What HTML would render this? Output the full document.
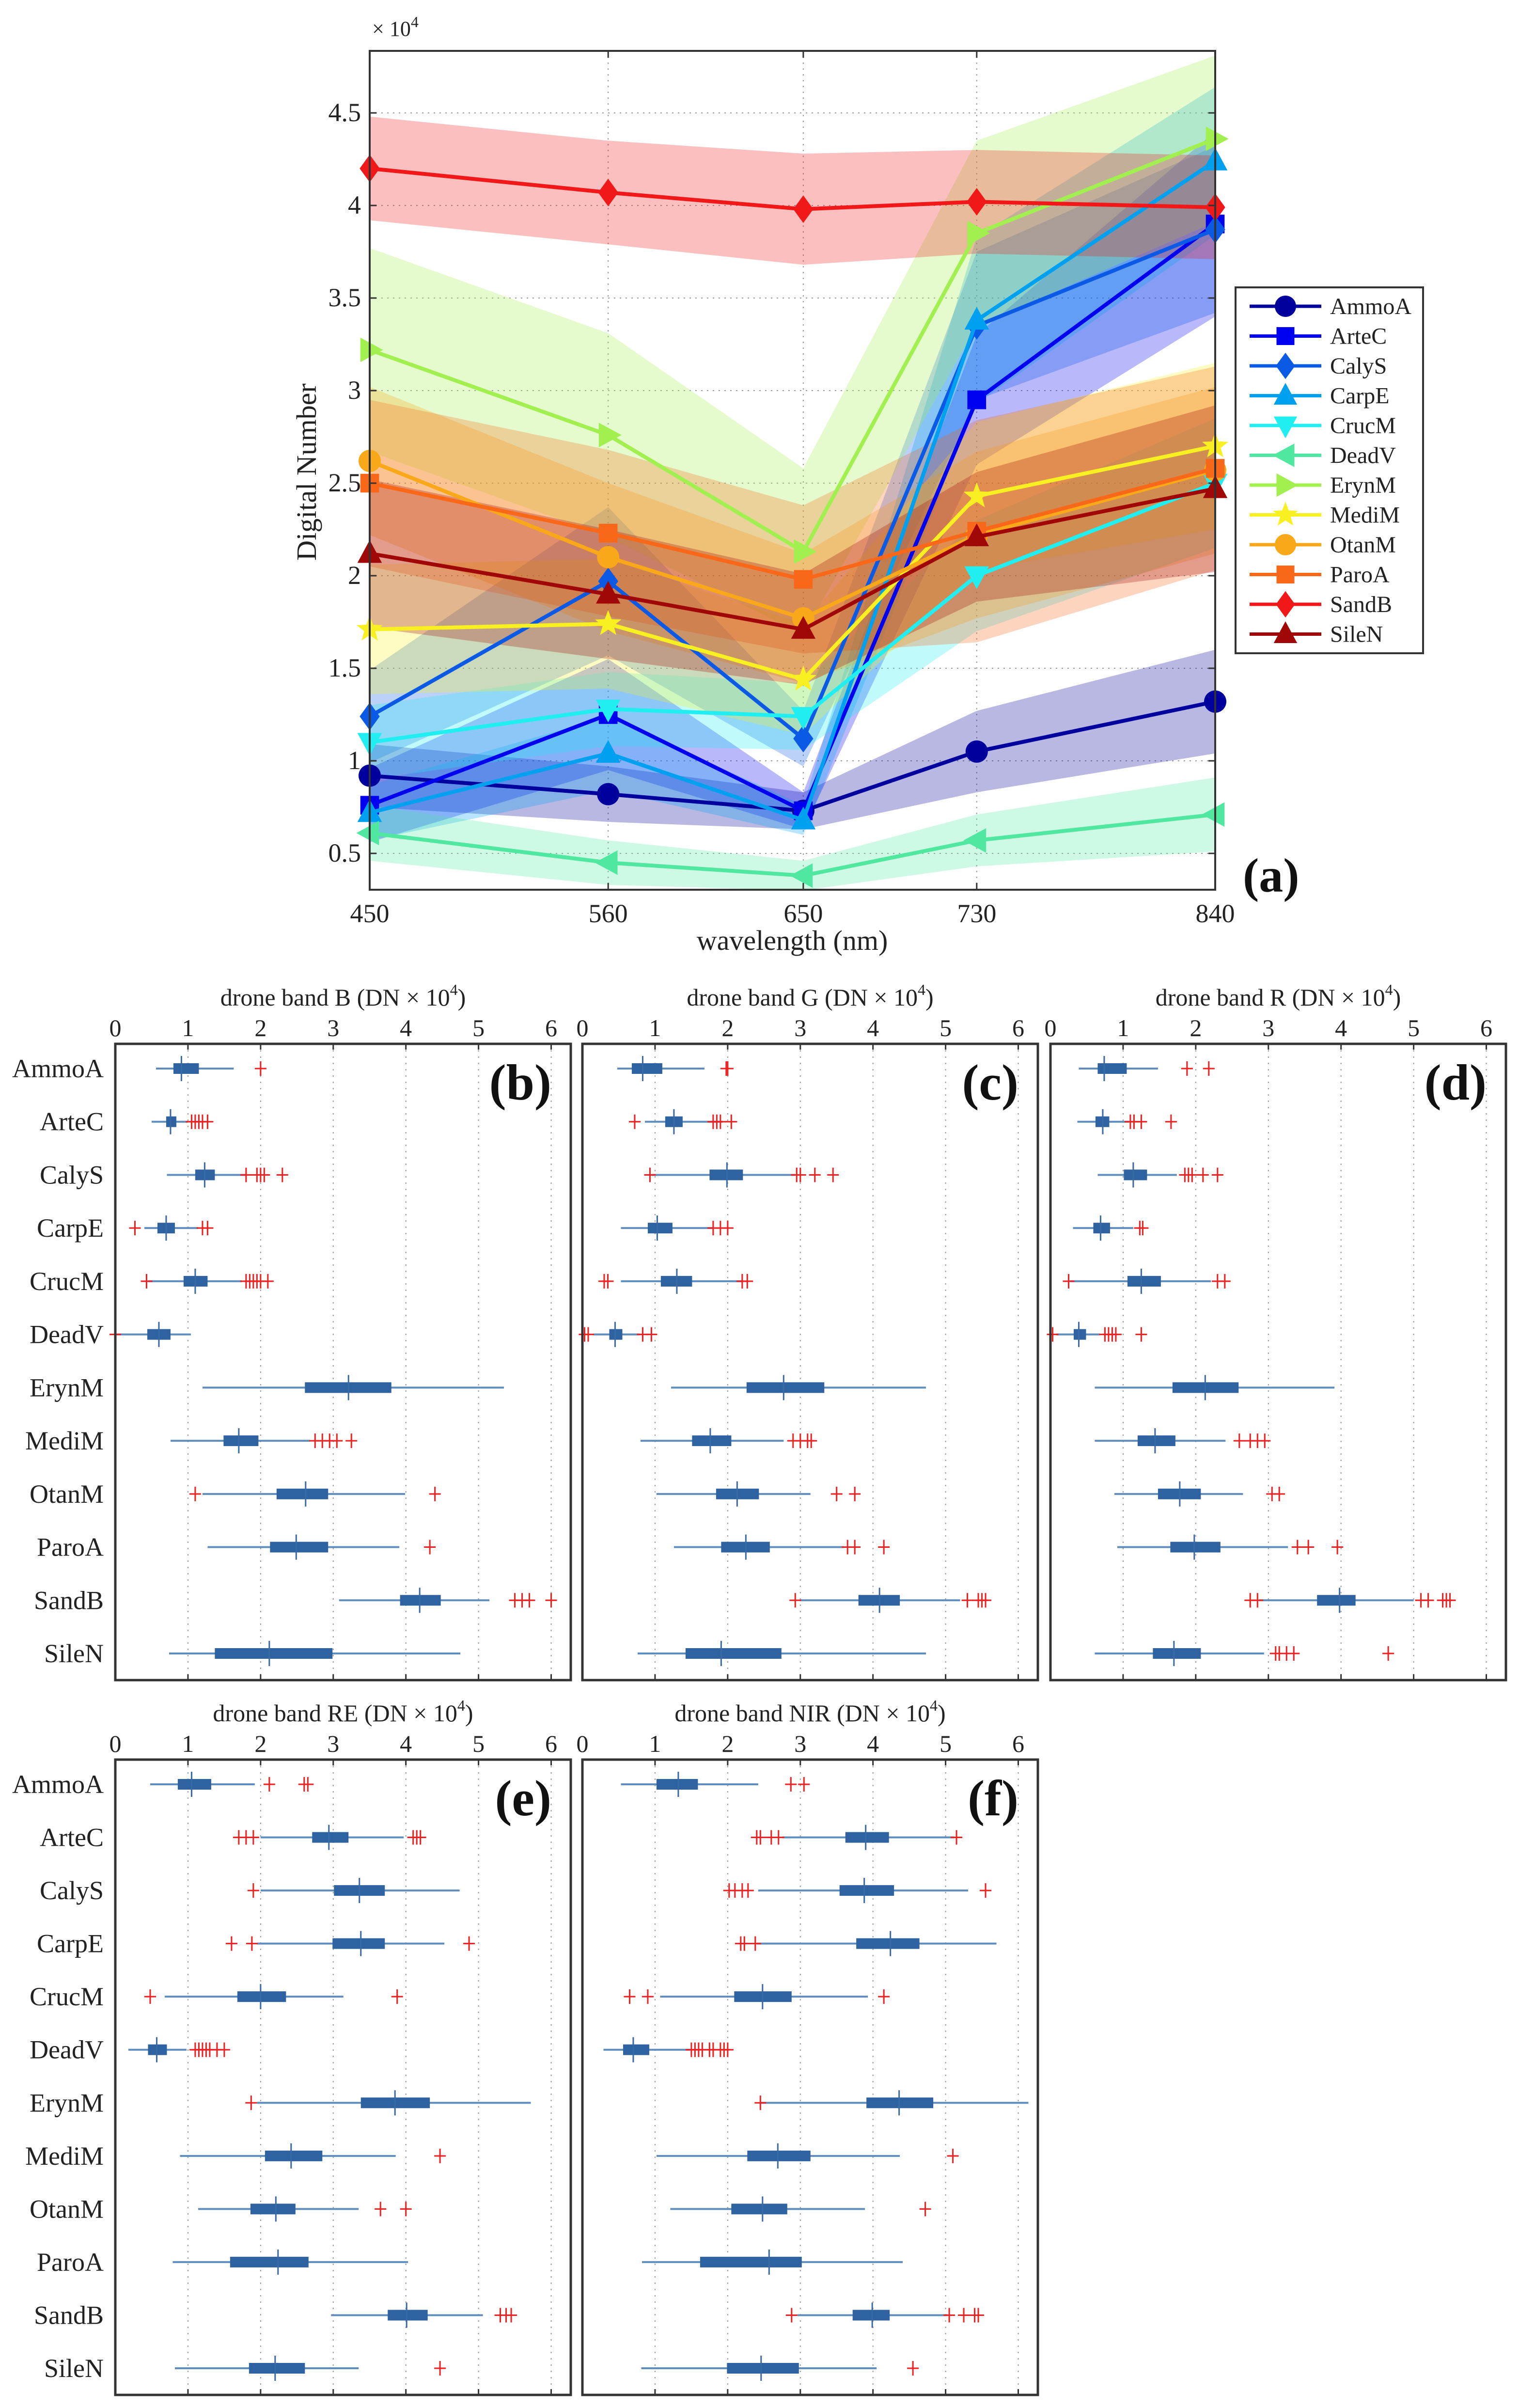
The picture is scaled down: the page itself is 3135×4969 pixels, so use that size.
<!DOCTYPE html>
<html><head><meta charset="utf-8"><style>
html,body{margin:0;padding:0;background:#fff}
svg{display:block;font-family:"Liberation Serif",serif}
</style></head><body>
<svg id="fig" width="3135" height="4969" viewBox="0 0 3135 4969" xmlns="http://www.w3.org/2000/svg">
<rect x="0" y="0" width="3135" height="4969" fill="#fff"/>
<g id="panelA"></g>
<g id="boxes"></g>
</svg>
<script>
// ---------- Panel (a) data ----------
const wavelengths = [450, 560, 650, 730, 840];
const seriesNames = ["AmmoA","ArteC","CalyS","CarpE","CrucM","DeadV","ErynM","MediM","OtanM","ParoA","SandB","SileN"];
const seriesColors = ["#00009c","#0000f0","#0a5ae6","#00a0f0","#20eef0","#50e8a0","#a2f050","#f8f020","#f8a818","#f86818","#f01818","#a00808"];
const seriesMarkers = ["circle","square","diamond","triUp","triDown","triLeft","triRight","star","circle","square","diamond","triUp"];
const meanAmmoA = [0.92,0.82,0.73,1.05,1.32];
const meanArteC = [0.76,1.25,0.73,2.95,3.90];
const meanCalyS = [1.24,1.97,1.12,3.35,3.87];
const meanCarpE = [0.72,1.04,0.68,3.38,4.24];
const meanCrucM = [1.10,1.28,1.24,2.00,2.50];
const meanDeadV = [0.61,0.45,0.38,0.57,0.71];
const meanErynM = [3.22,2.76,2.13,3.85,4.36];
const meanMediM = [1.71,1.74,1.44,2.43,2.70];
const meanOtanM = [2.62,2.10,1.77,2.22,2.57];
const meanParoA = [2.50,2.23,1.98,2.24,2.58];
const meanSandB = [4.20,4.07,3.98,4.02,3.99];
const meanSileN = [2.12,1.90,1.71,2.21,2.47];
const sdAmmoA = [0.17,0.15,0.10,0.22,0.28];
const sdArteC = [0.20,0.30,0.10,0.35,0.50];
const sdCalyS = [0.25,0.40,0.15,0.40,0.45];
const sdCarpE = [0.15,0.20,0.08,0.45,0.40];
const sdCrucM = [0.20,0.20,0.18,0.30,0.35];
const sdDeadV = [0.15,0.12,0.08,0.14,0.20];
const sdErynM = [0.55,0.55,0.45,0.50,0.45];
const sdMediM = [0.35,0.35,0.30,0.40,0.45];
const sdOtanM = [0.40,0.40,0.35,0.45,0.45];
const sdParoA = [0.45,0.45,0.40,0.60,0.55];
const sdSandB = [0.28,0.28,0.30,0.28,0.28];
const sdSileN = [0.40,0.35,0.30,0.35,0.45];
const yTicksA = [0.5,1,1.5,2,2.5,3,3.5,4,4.5];
const yTickLabelsA = ["0.5","1","1.5","2","2.5","3","3.5","4","4.5"];
const xTickLabelsA = ["450","560","650","730","840"];

// ---------- Box plot data (DN x 1e4): [lowWhisker, q1, median, q3, highWhisker] ----------
const boxNames = ["AmmoA","ArteC","CalyS","CarpE","CrucM","DeadV","ErynM","MediM","OtanM","ParoA","SandB","SileN"];
const xTicksBox = [0,1,2,3,4,5,6];
const statsB = [[0.56,0.8,0.91,1.15,1.63],[0.5,0.7,0.76,0.84,1.0],[0.71,1.1,1.23,1.37,1.8],[0.4,0.58,0.7,0.82,1.14],[0.45,0.94,1.1,1.27,1.74],[0.0,0.44,0.6,0.76,1.04],[1.2,2.61,3.21,3.8,5.35],[0.76,1.49,1.7,1.97,2.68],[1.2,2.22,2.62,2.93,3.99],[1.27,2.13,2.49,2.93,3.91],[3.08,3.92,4.19,4.48,5.15],[0.74,1.37,2.12,2.99,4.75]];
const outB = [[2.0],[1.05,1.1,1.15,1.2,1.27],[1.8,1.95,2.0,2.05,2.3],[0.27,1.2,1.27],[0.43,1.8,1.85,1.9,1.95,2.0,2.1],[0.0],[],[2.75,2.85,2.95,3.05,3.25],[1.1,4.4],[4.33],[5.5,5.6,5.7,6.0],[]];
const statsG = [[0.48,0.68,0.83,1.1,1.68],[0.86,1.14,1.26,1.38,1.93],[0.95,1.75,1.99,2.21,2.93],[0.53,0.9,1.03,1.24,1.79],[0.53,1.08,1.3,1.51,2.2],[0.15,0.37,0.45,0.55,0.79],[1.22,2.26,2.77,3.33,4.73],[0.8,1.51,1.76,2.05,2.77],[1.02,1.84,2.13,2.43,3.14],[1.26,1.91,2.25,2.58,3.6],[2.99,3.8,4.09,4.37,5.2],[0.76,1.42,1.91,2.74,4.73]];
const outG = [[1.98,2.0],[0.72,1.8,1.85,1.9,2.05],[0.93,2.95,3.0,3.2,3.45],[1.8,1.9,2.0],[0.3,0.35,2.2,2.27],[0.03,0.08,0.83,0.95],[],[2.9,3.0,3.1,3.15],[3.5,3.75],[3.65,3.75,4.15],[2.93,5.3,5.45,5.5,5.55],[]];
const statsR = [[0.39,0.65,0.74,1.05,1.48],[0.37,0.62,0.72,0.81,1.08],[0.65,1.01,1.14,1.33,1.74],[0.31,0.59,0.69,0.82,1.14],[0.27,1.06,1.25,1.52,2.21],[0.08,0.32,0.39,0.49,0.68],[0.61,1.68,2.13,2.59,3.91],[0.61,1.2,1.44,1.72,2.41],[0.88,1.48,1.78,2.07,2.65],[0.92,1.65,1.98,2.34,3.27],[2.87,3.67,3.98,4.2,5.0],[0.61,1.41,1.7,2.07,2.94]];
const outR = [[1.88,2.18],[1.1,1.15,1.25,1.66],[1.85,1.9,1.95,2.1,2.3],[1.23,1.27],[0.25,2.3,2.4],[0.03,0.75,0.8,0.85,0.9,1.25],[],[2.6,2.75,2.85,2.95],[3.05,3.15],[3.4,3.55,3.95],[2.75,2.85,5.1,5.2,5.4,5.45,5.5],[3.1,3.15,3.25,3.35,4.65]];
const statsRE = [[0.48,0.86,1.05,1.32,1.92],[2.0,2.71,2.94,3.21,3.97],[2.0,3.01,3.36,3.71,4.74],[1.95,2.99,3.38,3.71,4.53],[0.68,1.68,2.0,2.35,3.14],[0.18,0.45,0.57,0.71,0.98],[1.95,3.38,3.85,4.33,5.72],[0.89,2.06,2.42,2.85,3.86],[1.14,1.86,2.21,2.48,3.35],[0.79,1.58,2.24,2.66,4.03],[2.97,3.75,4.01,4.3,5.06],[0.82,1.84,2.2,2.61,3.35]];
const outRE = [[2.12,2.6,2.65],[1.7,1.8,1.9,4.1,4.15,4.2],[1.9],[1.6,1.88,4.87],[0.48,3.88],[1.1,1.15,1.2,1.25,1.3,1.4,1.5],[1.87],[4.47],[3.65,4.0],[],[5.3,5.38,5.45],[4.47]];
const statsNIR = [[0.53,1.02,1.32,1.59,2.42],[2.75,3.62,3.9,4.22,5.12],[2.42,3.54,3.88,4.29,5.31],[2.4,3.77,4.24,4.64,5.7],[1.07,2.09,2.48,2.88,3.93],[0.29,0.56,0.7,0.92,1.48],[2.45,3.91,4.36,4.83,6.14],[1.02,2.27,2.69,3.14,4.37],[1.21,2.05,2.48,2.82,3.89],[0.82,1.62,2.57,3.02,4.41],[2.96,3.72,3.99,4.23,5.03],[0.81,1.99,2.46,2.98,4.05]];
const outNIR = [[2.87,3.05],[2.4,2.45,2.6,2.7,5.15],[2.02,2.1,2.2,2.28,5.55],[2.18,2.23,2.38],[0.65,0.9,4.15],[1.5,1.55,1.6,1.65,1.75,1.8,1.9,1.95,2.0],[2.45],[5.1],[4.72],[],[2.88,5.05,5.25,5.4,5.45],[4.55]];

const NS = "http://www.w3.org/2000/svg";
function mk(tag, attrs, parent){ const e=document.createElementNS(NS,tag); for(const k in attrs) e.setAttribute(k,attrs[k]); parent.appendChild(e); return e; }

// ---------- Panel (a) ----------
(function(){
  const g = document.getElementById("panelA");
  const L=763,R=2508,T=105,B=1836;
  const yv0=0.5, py0=1761, pxPerUnit=382;
  const xS = w => L + (w-450)/(840-450)*(R-L);
  const yS = v => py0 - (v-yv0)*pxPerUnit;
  const means=[meanAmmoA,meanArteC,meanCalyS,meanCarpE,meanCrucM,meanDeadV,meanErynM,meanMediM,meanOtanM,meanParoA,meanSandB,meanSileN];
  const sds=[sdAmmoA,sdArteC,sdCalyS,sdCarpE,sdCrucM,sdDeadV,sdErynM,sdMediM,sdOtanM,sdParoA,sdSandB,sdSileN];
  yTicksA.forEach(v=>{ const l=mk("line",{x1:L,x2:R,y1:yS(v),y2:yS(v),stroke:"#999","stroke-width":2,"stroke-dasharray":"3 9"},g);
      });
  wavelengths.forEach(w=>{ const l=mk("line",{x1:xS(w),x2:xS(w),y1:T,y2:B,stroke:"#999","stroke-width":2,"stroke-dasharray":"3 9"},g);
      });
  means.forEach((m,i)=>{
    let pts=[]; m.forEach((v,j)=>pts.push(xS(wavelengths[j])+","+yS(v+sds[i][j])));
    for(let j=m.length-1;j>=0;j--) pts.push(xS(wavelengths[j])+","+yS(m[j]-sds[i][j]));
    const p=mk("polygon",{points:pts.join(" "),fill:seriesColors[i],"fill-opacity":0.28,stroke:"none"},g);
     
  });
  function marker(type,x,y,s,color,parent){
    let e;
    if(type==="circle") e=mk("circle",{cx:x,cy:y,r:s*0.5},parent);
    else if(type==="square") e=mk("rect",{x:x-s*0.42,y:y-s*0.42,width:s*0.84,height:s*0.84},parent);
    else { let p;
      if(type==="diamond") p=[[0,-0.62],[0.45,0],[0,0.62],[-0.45,0]];
      else if(type==="triUp") p=[[0,-0.6],[0.55,0.42],[-0.55,0.42]];
      else if(type==="triDown") p=[[0,0.6],[0.55,-0.42],[-0.55,-0.42]];
      else if(type==="triLeft") p=[[-0.6,0],[0.42,0.55],[0.42,-0.55]];
      else if(type==="triRight") p=[[0.6,0],[-0.42,0.55],[-0.42,-0.55]];
      else { p=[]; for(let k=0;k<10;k++){const a=-Math.PI/2+k*Math.PI/5; const r=k%2?0.26:0.62; p.push([r*Math.cos(a),r*Math.sin(a)]);} }
      e=mk("polygon",{points:p.map(q=>(x+q[0]*s)+","+(y+q[1]*s)).join(" ")},parent);
    }
    e.setAttribute("fill",color);
    return e;
  }
  means.forEach((m,i)=>{
    const sg=mk("g",{},g);
     
    mk("polyline",{points:m.map((v,j)=>xS(wavelengths[j])+","+yS(v)).join(" "),fill:"none",stroke:seriesColors[i],"stroke-width":8,"stroke-linejoin":"round"},sg);
    m.forEach((v,j)=>{ const mm=marker(seriesMarkers[i],xS(wavelengths[j]),yS(v),46,seriesColors[i],sg);
        });
  });
  const ax=mk("rect",{x:L,y:T,width:R-L,height:B-T,fill:"none",stroke:"#333","stroke-width":4},g);
   
  yTicksA.forEach((v,i)=>{
    mk("line",{x1:L,x2:L+14,y1:yS(v),y2:yS(v),stroke:"#333","stroke-width":3},g);
    mk("line",{x1:R,x2:R-14,y1:yS(v),y2:yS(v),stroke:"#333","stroke-width":3},g);
    const t=mk("text",{x:L-18,y:yS(v)+17,"text-anchor":"end","font-size":54,fill:"#222"},g); t.textContent=yTickLabelsA[i];
     
  });
  wavelengths.forEach((w,i)=>{
    mk("line",{x1:xS(w),x2:xS(w),y1:B,y2:B-14,stroke:"#333","stroke-width":3},g);
    mk("line",{x1:xS(w),x2:xS(w),y1:T,y2:T+14,stroke:"#333","stroke-width":3},g);
    const t=mk("text",{x:xS(w),y:1903,"text-anchor":"middle","font-size":54,fill:"#222"},g); t.textContent=xTickLabelsA[i];
     
  });
  const lg=mk("g",{},g);  
  mk("rect",{x:2550,y:593,width:387,height:755,fill:"#fff",stroke:"#333","stroke-width":4},lg);
  seriesNames.forEach((n,i)=>{
    const y=632+i*61.5;
    const eg=mk("g",{},lg);  
    mk("line",{x1:2579,x2:2727,y1:y,y2:y,stroke:seriesColors[i],"stroke-width":7},eg);
    marker(seriesMarkers[i],2653,y,44,seriesColors[i],eg);
    const t=mk("text",{x:2745,y:y+16,"font-size":48,fill:"#222"},eg); t.textContent=n;
  });
})();

// ---------- Box panels ----------
(function(){
  const g=document.getElementById("boxes");
  const W=940;
  const panels=[
    {key:"B",x:238,top:2154,bot:3467,stats:statsB,out:outB,letter:"(b)"},
    {key:"G",x:1202,top:2154,bot:3467,stats:statsG,out:outG,letter:"(c)"},
    {key:"R",x:2168,top:2154,bot:3467,stats:statsR,out:outR,letter:"(d)"},
    {key:"RE",x:238,top:3631,bot:4942,stats:statsRE,out:outRE,letter:"(e)"},
    {key:"NIR",x:1202,top:3631,bot:4942,stats:statsNIR,out:outNIR,letter:"(f)"}
  ];
  const unit=W/6.27;
  panels.forEach((p,pi)=>{
    const pg=mk("g",{},g);  
    const xS=v=>p.x+v*unit;
    const yRow=i=>p.top+51+i*((p.bot-55)-(p.top+51))/11;
    xTicksBox.forEach(v=>{ if(v>0){ const l=mk("line",{x1:xS(v),x2:xS(v),y1:p.top,y2:p.bot,stroke:"#999","stroke-width":2,"stroke-dasharray":"3 10"},pg);
       
      mk("line",{x1:xS(v),x2:xS(v),y1:p.top,y2:p.top+12,stroke:"#333","stroke-width":3},pg);
      mk("line",{x1:xS(v),x2:xS(v),y1:p.bot,y2:p.bot-12,stroke:"#333","stroke-width":3},pg);} 
      const t=mk("text",{x:xS(v),y:p.top-16,"text-anchor":"middle","font-size":50,fill:"#222"},pg); t.textContent=String(v);
       
    });
    const tt=mk("text",{x:p.x+W/2,y:p.top-79,"text-anchor":"middle","font-size":50,fill:"#222"},pg);
     
    tt.appendChild(document.createTextNode("drone band "+p.key+"  (DN × 10"));
    const sup=mk("tspan",{"font-size":32,dy:-22},tt); sup.textContent="4";
    const cl=mk("tspan",{dy:22},tt); cl.textContent=")";
    p.stats.forEach((s,i)=>{
      const y=yRow(i);
      const rg=mk("g",{},pg);  
      mk("line",{x1:xS(s[0]),x2:xS(s[4]),y1:y,y2:y,stroke:"#5f8dbd","stroke-width":4},rg);
      mk("rect",{x:xS(s[1]),y:y-11,width:xS(s[3])-xS(s[1]),height:22,fill:"#2f62a0"},rg);
      mk("line",{x1:xS(s[2]),x2:xS(s[2]),y1:y-26,y2:y+26,stroke:"#3a6aa5","stroke-width":3},rg);
      p.out[i].forEach(o=>{
        const og=mk("path",{d:"M"+(xS(o)-12)+" "+y+"H"+(xS(o)+12)+"M"+xS(o)+" "+(y-15)+"V"+(y+15),stroke:"#f02020","stroke-width":3,fill:"none"},rg);
         
      });
      if(pi===0||pi===3){
        const lt=mk("text",{x:214,y:y+18,"text-anchor":"end","font-size":54,fill:"#222"},g); lt.textContent=boxNames[i];
         
      }
    });
    const fr=mk("rect",{x:p.x,y:p.top,width:W,height:p.bot-p.top,fill:"none",stroke:"#333","stroke-width":5},pg);
     
    const lt=mk("text",{x:p.x+W-40,y:p.top+115,"text-anchor":"end","font-size":105,"font-weight":"bold",fill:"#111"},pg); lt.textContent=p.letter;
     
  });
})();
</script>
<div style="position:absolute;left:0;top:0;width:3135px;height:4969px;pointer-events:none">
<svg width="3135" height="4969" style="position:absolute;left:0;top:0;font-family:'Liberation Serif',serif">
<text x="768" y="74" font-size="44" fill="#222">× 10<tspan font-size="32" dy="-18">4</tspan></text>
<text x="1635" y="1960" text-anchor="middle" font-size="58" fill="#222">wavelength (nm)</text>
<text x="0" y="0" transform="translate(652 974) rotate(-90)" text-anchor="middle" font-size="58" fill="#222">Digital Number</text>
<text x="2565" y="1840" font-size="100" font-weight="bold" fill="#111">(a)</text>
</svg>
</div>
</body></html>
